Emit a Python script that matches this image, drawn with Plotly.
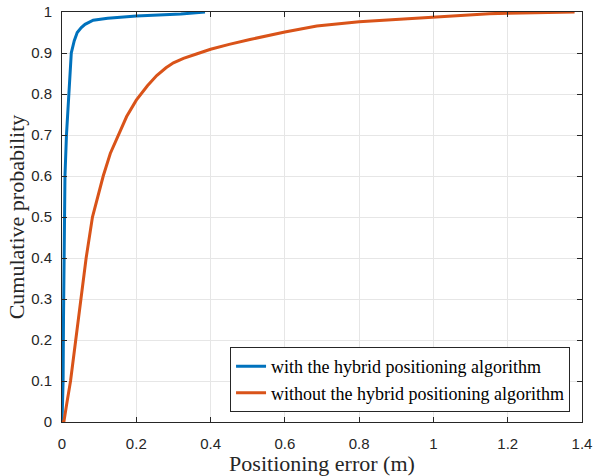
import plotly.graph_objects as go

# Empirical CDF of positioning error (m)
err_hybrid = [0.0, 0.003, 0.004, 0.006, 0.008, 0.012, 0.018, 0.022, 0.025, 0.033,
              0.041, 0.052, 0.062, 0.084, 0.123, 0.2, 0.32, 0.385]
cdf_hybrid = [0.0, 0.1, 0.25, 0.4, 0.6, 0.7, 0.8, 0.854, 0.9, 0.93,
              0.95, 0.962, 0.97, 0.98, 0.985, 0.99, 0.995, 1.0]

err_plain = [0.0, 0.005, 0.012, 0.023, 0.037, 0.05, 0.065, 0.082, 0.096, 0.111,
             0.13, 0.151, 0.174, 0.2, 0.23, 0.255, 0.28, 0.30, 0.327, 0.36,
             0.4, 0.45, 0.506, 0.6, 0.686, 0.8, 0.937, 1.0, 1.15, 1.2, 1.38]
cdf_plain = [0.0, 0.0, 0.04, 0.1, 0.2, 0.3, 0.4, 0.5, 0.55, 0.6,
             0.655, 0.7, 0.745, 0.785, 0.82, 0.845, 0.864, 0.876, 0.887, 0.897,
             0.909, 0.921, 0.933, 0.951, 0.966, 0.976, 0.984, 0.987, 0.996, 0.997, 1.0]

x_ticks = [0, 0.2, 0.4, 0.6, 0.8, 1, 1.2, 1.4]
x_tick_text = ["0", "0.2", "0.4", "0.6", "0.8", "1", "1.2", "1.4"]
y_ticks = [0, 0.1, 0.2, 0.3, 0.4, 0.5, 0.6, 0.7, 0.8, 0.9, 1]
y_tick_text = ["0", "0.1", "0.2", "0.3", "0.4", "0.5", "0.6", "0.7", "0.8", "0.9", "1"]

serif = "Liberation Serif, Times New Roman, serif"
sans = "Liberation Sans, Arial, sans-serif"

fig = go.Figure()
fig.add_trace(go.Scatter(x=err_hybrid, y=cdf_hybrid, mode="lines",
                         name="with the hybrid positioning algorithm",
                         line=dict(color="#0072BD", width=3)))
fig.add_trace(go.Scatter(x=err_plain, y=cdf_plain, mode="lines",
                         name="without the hybrid positioning algorithm",
                         line=dict(color="#D95319", width=3)))

axis_common = dict(
    showline=True, linecolor="#262626", linewidth=1, mirror="ticks",
    ticks="inside", ticklen=5, tickcolor="#262626",
    showgrid=True, gridcolor="#E6E6E6", gridwidth=1, zeroline=False,
    automargin=False,
    tickfont=dict(family=sans, size=15, color="#262626"),
)

fig.update_xaxes(range=[0, 1.4], tickvals=x_ticks, ticktext=x_tick_text,
                 ticklabelstandoff=8,
                 title=dict(text="Positioning error (m)", standoff=6,
                            font=dict(family=serif, size=22, color="#262626")),
                 **axis_common)
fig.update_yaxes(range=[0, 1], tickvals=y_ticks, ticktext=y_tick_text,
                 ticklabelstandoff=6,
                 title=dict(text="Cumulative probability", standoff=0,
                            font=dict(family=serif, size=22, color="#262626")),
                 **axis_common)

fig.update_layout(
    width=594, height=476,
    margin=dict(l=62, r=12, t=12, b=54),
    plot_bgcolor="white", paper_bgcolor="white",
    legend=dict(x=0.977, y=0.024, xanchor="right", yanchor="bottom",
                bgcolor="white", bordercolor="#262626", borderwidth=1,
                font=dict(family=serif, size=18, color="black"),
                tracegroupgap=0),
    showlegend=True,
)

fig.write_html("out.html")
